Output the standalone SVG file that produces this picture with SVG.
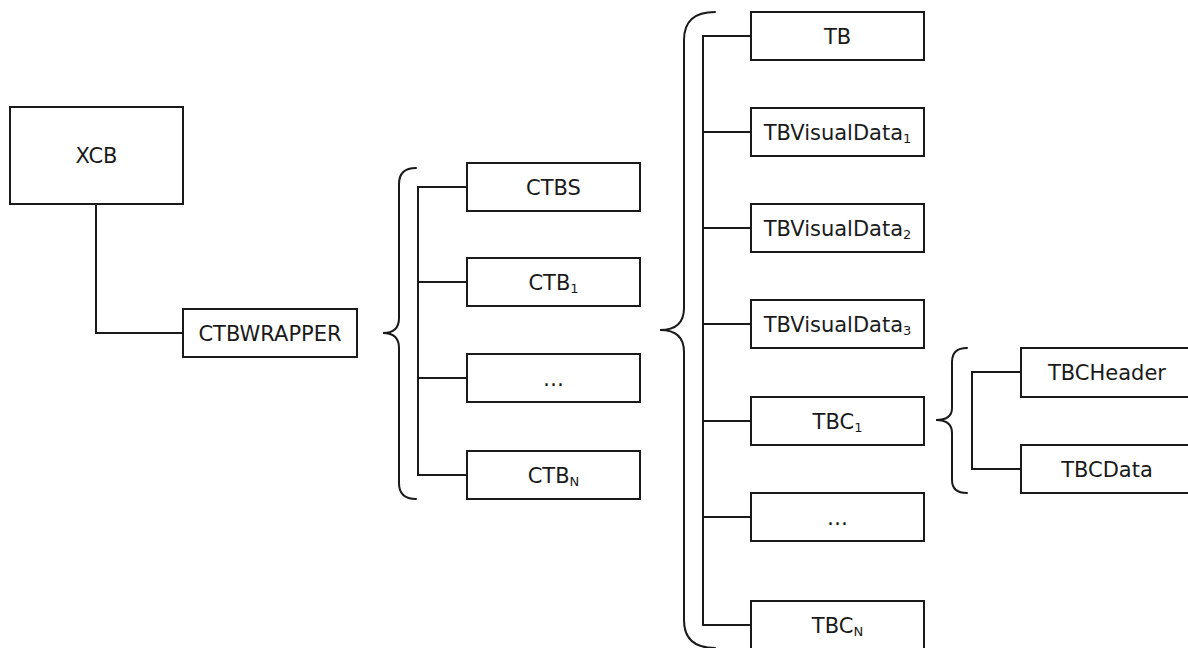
<svg xmlns="http://www.w3.org/2000/svg" width="1188" height="648" viewBox="0 0 1188 648">
  <style>
    .box { fill: #ffffff; stroke: #1a1a1a; stroke-width: 2; }
    .line { fill: none; stroke: #1a1a1a; stroke-width: 2; }
    .brace { fill: none; stroke: #1a1a1a; stroke-width: 2; stroke-linecap: round; }
    .label { font-family: "DejaVu Sans", Verdana, sans-serif; font-size: 21px; fill: #1a1a1a; text-anchor: middle; }
    .sub { font-size: 13px; }
  </style>
  <rect width="1188" height="648" fill="#ffffff"/>

  <!-- connectors and braces -->
  <g id="connectors">
    <path class="line" d="M96,204 V333 H183"/>

    <path class="brace" d="M416,168 Q399,168 399,184 V318 Q399,333 383,333 Q399,333 399,348 V483 Q399,499 416,499"/>
    <path class="line" d="M467,187 H418 V475 H467 M418,282 H467 M418,378 H467"/>

    <path class="brace" d="M715,12 Q684,12 684,40 V308 Q684,330 660,330 Q684,330 684,352 V620 Q684,648 715,648"/>
    <path class="line" d="M751,36 H703 V625 H751 M703,132 H751 M703,228 H751 M703,324 H751 M703,421 H751 M703,517 H751"/>

    <path class="brace" d="M967,348 Q952,348 952,362 V408 Q952,420 936,420 Q952,420 952,433 V480 Q952,493 967,493"/>
    <path class="line" d="M1021,372 H972 V469 H1021"/>
  </g>

  <g id="xcb">
    <rect class="box" x="10" y="107" width="173" height="97"/>
    <text class="label" x="96.5" y="163">XCB</text>
  </g>
  <g id="ctbwrapper">
    <rect class="box" x="183" y="309" width="174" height="48"/>
    <text class="label" x="270" y="340.5">CTBWRAPPER</text>
  </g>

  <g id="ctbs">
    <rect class="box" x="467" y="163" width="173" height="48"/>
    <text class="label" x="553.5" y="194.5">CTBS</text>
  </g>
  <g id="ctb1">
    <rect class="box" x="467" y="258" width="173" height="48"/>
    <text class="label" x="553.5" y="289.5">CTB<tspan class="sub" dy="3">1</tspan></text>
  </g>
  <g id="ctb-more">
    <rect class="box" x="467" y="354" width="173" height="48"/>
    <text class="label" x="553.5" y="385.5">…</text>
  </g>
  <g id="ctbn">
    <rect class="box" x="467" y="451" width="173" height="48"/>
    <text class="label" x="553.5" y="482.5">CTB<tspan class="sub" dy="3">N</tspan></text>
  </g>

  <g id="tb">
    <rect class="box" x="751" y="12" width="173" height="48"/>
    <text class="label" x="837.5" y="43.5">TB</text>
  </g>
  <g id="tbvisualdata1">
    <rect class="box" x="751" y="108" width="173" height="48"/>
    <text class="label" x="837.5" y="139.5">TBVisualData<tspan class="sub" dy="3">1</tspan></text>
  </g>
  <g id="tbvisualdata2">
    <rect class="box" x="751" y="204" width="173" height="48"/>
    <text class="label" x="837.5" y="235.5">TBVisualData<tspan class="sub" dy="3">2</tspan></text>
  </g>
  <g id="tbvisualdata3">
    <rect class="box" x="751" y="300" width="173" height="48"/>
    <text class="label" x="837.5" y="331.5">TBVisualData<tspan class="sub" dy="3">3</tspan></text>
  </g>
  <g id="tbc1">
    <rect class="box" x="751" y="397" width="173" height="48"/>
    <text class="label" x="837.5" y="428.5">TBC<tspan class="sub" dy="3">1</tspan></text>
  </g>
  <g id="tbc-more">
    <rect class="box" x="751" y="493" width="173" height="48"/>
    <text class="label" x="837.5" y="524.5">…</text>
  </g>
  <g id="tbcn">
    <rect class="box" x="751" y="601" width="173" height="48"/>
    <text class="label" x="837.5" y="632.5">TBC<tspan class="sub" dy="3">N</tspan></text>
  </g>

  <g id="tbcheader">
    <rect class="box" x="1021" y="348" width="173" height="49"/>
    <text class="label" x="1107" y="380">TBCHeader</text>
  </g>
  <g id="tbcdata">
    <rect class="box" x="1021" y="445" width="173" height="48"/>
    <text class="label" x="1107" y="476.5">TBCData</text>
  </g>
</svg>
